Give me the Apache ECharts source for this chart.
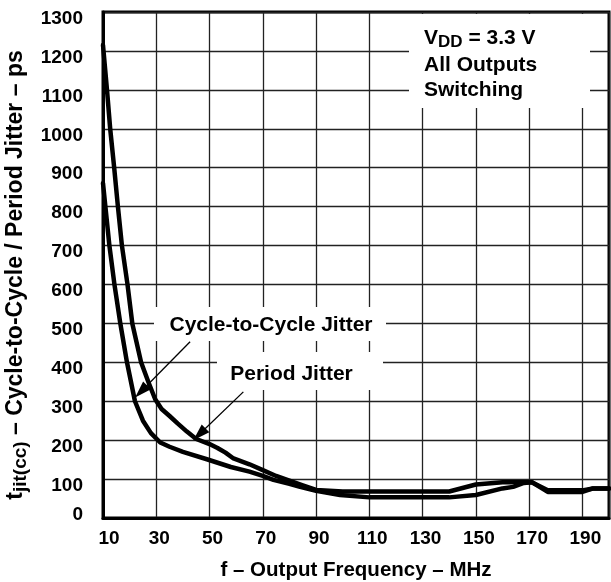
<!DOCTYPE html>
<html><head><meta charset="utf-8">
<script src="https://cdn.jsdelivr.net/npm/echarts@6/dist/echarts.min.js"></script>
<style>html,body{margin:0;padding:0;background:#fff}#c{width:611px;height:582px}</style>
</head><body><div id="c"></div>
<script>
const FONT = "'Liberation Sans', Arial, Helvetica, sans-serif";
const xMin = 10, xMax = 200, xStep = 20;
const yMin = 0, yMax = 1300, yStep = 100;

const periodFreq   = [10, 11.5, 12.7, 14.2, 15.6, 17.1, 19.2, 21, 24.3, 27, 29.6, 32, 35, 38, 41.5, 45, 50, 53, 56, 59, 65, 70, 75, 80, 85, 90, 100, 140, 150, 160, 171, 177, 190, 194, 200];
const periodJitter = [1215, 1100, 1000, 900, 800, 700, 600, 500, 400, 350, 305, 280, 262, 243, 222, 203, 190, 180, 168, 153, 138, 123, 108, 96, 84, 72, 68, 68, 86, 92, 92, 71, 71, 76, 76];

const c2cFreq   = [10, 10.9, 12.4, 14.3, 16.5, 19, 22, 25, 28, 31.5, 35, 40, 49, 58, 65, 70, 74, 80, 84, 90, 99, 110, 140, 150, 160, 164, 168, 171, 177, 190, 194, 200];
const c2cJitter = [860, 800, 700, 600, 500, 400, 300, 250, 218, 194, 183, 170, 151, 131, 119, 108, 98, 88, 80, 70, 59, 53, 53, 59, 76, 80, 90, 92, 67, 67, 76, 76];

// annotation arrows (tail -> head) in data units
const c2cArrow    = [[42.7, 453], [24.3, 325]];
const periodArrow = [[62.7, 324], [46.2, 215]];

const chart = echarts.init(document.getElementById('c'), null, {renderer: 'canvas'});

const lbl = {fontFamily: FONT, fontWeight: 'bold', color: '#000'};

chart.setOption({
  animation: false,
  backgroundColor: '#fff',
  grid: {left: 103, right: 2, top: 12, bottom: 64, containLabel: false, outerBoundsMode: 'none',
         show: true, borderColor: '#000', borderWidth: 3, backgroundColor: 'transparent'},
  xAxis: {
    type: 'value', min: xMin, max: xMax, interval: xStep,
    axisLine: {show: true, lineStyle: {color: '#000', width: 3}},
    axisTick: {show: false},
    axisLabel: Object.assign({
      fontSize: 19, margin: 11, showMaxLabel: false,
      formatter: v => v === xMin ? '{f|' + v + '}' : '{n|' + v + '}',
      rich: {
        f: Object.assign({fontSize: 19, padding: [0, 0, 0, 12]}, lbl),
        n: Object.assign({fontSize: 19, padding: [0, 0, 0, 6]}, lbl)
      }
    }, lbl),
    splitLine: {show: true, lineStyle: {color: '#222', width: 1.3}},
    name: 'f – Output Frequency – MHz', nameLocation: 'middle', nameGap: 42,
    nameTextStyle: Object.assign({fontSize: 20.5}, lbl)
  },
  yAxis: {
    type: 'value', min: yMin, max: yMax, interval: yStep,
    axisLine: {show: true, lineStyle: {color: '#000', width: 3}},
    axisTick: {show: false},
    axisLabel: Object.assign({
      fontSize: 19, margin: 20,
      formatter: v => v === yMin ? '{z|' + v + '}' : '{n|' + v + '}',
      rich: {
        n: Object.assign({fontSize: 19, lineHeight: 32, verticalAlign: 'bottom'}, lbl),
        z: Object.assign({fontSize: 19, lineHeight: 26, verticalAlign: 'top'}, lbl)
      }
    }, lbl),
    splitLine: {show: true, lineStyle: {color: '#222', width: 1.3}},
    name: '{t|t}{s|jit(cc)}{t| – Cycle-to-Cycle / Period Jitter – ps}',
    nameLocation: 'middle', nameGap: 60,
    nameTextStyle: {
      padding: [0, 20, 0, 0],
      rich: {
        t: Object.assign({fontSize: 23, lineHeight: 29, verticalAlign: 'middle'}, lbl),
        s: Object.assign({fontSize: 19, verticalAlign: 'bottom'}, lbl)
      }
    }
  },
  series: [
    {
      name: 'Period Jitter', type: 'line', showSymbol: false, symbol: 'none', silent: true,
      data: periodFreq.map((f, i) => [f, periodJitter[i]]),
      lineStyle: {color: '#000', width: 4.5, join: 'round', cap: 'round'},
      markLine: {
        silent: true, symbol: ['none', 'triangle'], symbolSize: [11, 17],
        label: {show: false},
        lineStyle: {color: '#000', width: 1.3, type: 'solid'},
        itemStyle: {color: '#000'},
        data: [
          [{coord: c2cArrow[0]}, {coord: c2cArrow[1]}],
          [{coord: periodArrow[0]}, {coord: periodArrow[1]}]
        ]
      }
    },
    {
      name: 'Cycle-to-Cycle Jitter', type: 'line', showSymbol: false, symbol: 'none', silent: true,
      data: c2cFreq.map((f, i) => [f, c2cJitter[i]]),
      lineStyle: {color: '#000', width: 4.5, join: 'round', cap: 'round'}
    }
  ],
  graphic: [
    {type: 'rect', z: 1, shape: {x: 409, y: 14, width: 181, height: 94}, style: {fill: '#fff'}},
    {type: 'text', z: 1, x: 424, y: 38, style: {
      text: '{v|V}{d|DD}{v| = 3.3 V}', verticalAlign: 'middle',
      rich: {
        v: Object.assign({fontSize: 21, lineHeight: 26, verticalAlign: 'middle'}, lbl, {fill: '#000'}),
        d: Object.assign({fontSize: 17, verticalAlign: 'bottom'}, lbl, {fill: '#000'})
      }}},
    {type: 'text', z: 1, x: 424, y: 65, style: {text: 'All Outputs', fontSize: 21, verticalAlign: 'middle', fill: '#000', fontFamily: FONT, fontWeight: 'bold'}},
    {type: 'text', z: 1, x: 424, y: 90, style: {text: 'Switching', fontSize: 21, verticalAlign: 'middle', fill: '#000', fontFamily: FONT, fontWeight: 'bold'}},

    {type: 'rect', z: 1, shape: {x: 154, y: 307, width: 232, height: 34}, style: {fill: '#fff'}},
    {type: 'text', z: 1, x: 271, y: 325, style: {text: 'Cycle-to-Cycle Jitter', fontSize: 21, fontFamily: FONT, fontWeight: 'bold', fill: '#000', align: 'center', verticalAlign: 'middle'}},

    {type: 'rect', z: 1, shape: {x: 217, y: 352, width: 166, height: 38}, style: {fill: '#fff'}},
    {type: 'text', z: 1, x: 291.5, y: 374, style: {text: 'Period Jitter', fontSize: 21, fontFamily: FONT, fontWeight: 'bold', fill: '#000', align: 'center', verticalAlign: 'middle'}}
  ]
});
</script>
</body></html>
